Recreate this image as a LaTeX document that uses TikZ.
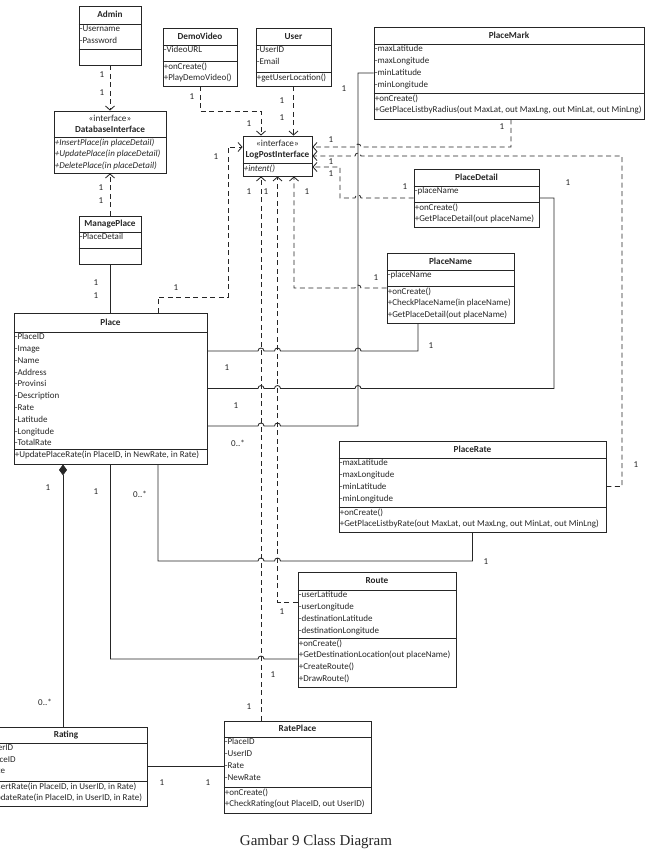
\documentclass[tikz,border=0pt]{standalone}
\usepackage{fontspec}
\setmainfont{Carlito}
\newfontfamily\captionfont{Liberation Serif}
\usetikzlibrary{calc, fit, arrows.meta}

% class box: name, top left, bottom right, y of first line, y of second line, title, attributes, methods
\newcommand{\umlclass}[8]{%
  \node[classbox, fit={(#2) (#3)}] (#1) {};
  \coordinate (#1-s1) at (#1.west |- 0,#4);
  \coordinate (#1-s2) at (#1.west |- 0,#5);
  \draw[assoc] (#1-s1) -- (#1-s1 -| #1.east)
        (#1-s2) -- (#1-s2 -| #1.east);
  \node[classtitle] (#1-title) at ($(#1.north)!0.5!(#1-s1 -| #1.north)$) {#6};
  \node[member] (#1-attr) at (#1-s1) {#7};
  \node[member] (#1-ops) at (#1-s2) {#8};
}

\begin{document}
\begin{tikzpicture}[x=1pt, y=-1pt, every node/.style={text=black!85},
    classbox/.style={draw=black!85, line width=0.85pt, inner sep=0pt},
    classtitle/.style={font=\fontsize{9.2}{10.7}\selectfont\bfseries, align=center, inner sep=0pt},
    member/.style={anchor=north west, align=left, inner xsep=1pt, inner ysep=1.3pt, font=\fontsize{9}{11.8}\selectfont},
    assoc/.style={draw=black!85, line width=0.85pt},
    dep/.style={assoc, dash pattern=on 5pt off 3.5pt, -{Straight Barb[length=4pt,width=9pt]}},
    mult/.style={font=\fontsize{9}{10}\selectfont, inner sep=0pt}]
    \useasboundingbox (0,0) rectangle (645,852);
    \clip (0,0) rectangle (645,852);

    % classes
    \umlclass{admin}{79,6}{141,65}{24}{49}{Admin}{-Username\\-Password}{}
    \umlclass{demovideo}{163,28}{237,86}{45}{61}{DemoVideo}{-VideoURL}{+onCreate()\\+PlayDemoVideo()}
    \umlclass{user}{256,28}{331,86}{45}{72}{User}{-UserID\\-Email}{+getUserLocation()}
    \umlclass{placemark}{374,27}{644,119}{44}{93}{PlaceMark}
        {-maxLatitude\\-maxLongitude\\-minLatitude\\-minLongitude}
        {+onCreate()\\+GetPlaceListbyRadius(out MaxLat, out MaxLng, out MinLat, out MinLng)}
    \umlclass{dbinterface}{54,111}{166,173}{137}{137}{{\mdseries «interface»}\\DatabaseInterface}{}
        {\itshape +InsertPlace(in placeDetail)\\\itshape +UpdatePlace(in placeDetail)\\\itshape +DeletePlace(in placeDetail)}
    \umlclass{logpost}{243,136}{312,176}{163}{163}{{\mdseries «interface»}\\LogPostInterface}{}{\itshape +intent()}
    \umlclass{manageplace}{79,216}{141,264}{232}{248}{ManagePlace}{-PlaceDetail}{}
    \umlclass{place}{14,313}{207,464}{332}{449}{Place}
        {-PlaceID\\-Image\\-Name\\-Address\\-Provinsi\\-Description\\-Rate\\-Latitude\\-Longitude\\-TotalRate}
        {+UpdatePlaceRate(in PlaceID, in NewRate, in Rate)}
    \umlclass{placedetail}{414,169}{539,227}{186}{202}{PlaceDetail}{-placeName}
        {+onCreate()\\+GetPlaceDetail(out placeName)}
    \umlclass{placename}{387,253}{514,323}{270}{286}{PlaceName}{-placeName}
        {+onCreate()\\+CheckPlaceName(in placeName)\\+GetPlaceDetail(out placeName)}
    \umlclass{placerate}{339,441}{606,532}{458}{507}{PlaceRate}
        {-maxLatitude\\-maxLongitude\\-minLatitude\\-minLongitude}
        {+onCreate()\\+GetPlaceListbyRate(out MaxLat, out MaxLng, out MinLat, out MinLng)}
    \umlclass{route}{298,572}{456,687}{590}{638}{Route}
        {-userLatitude\\-userLongitude\\-destinationLatitude\\-destinationLongitude}
        {+onCreate()\\+GetDestinationLocation(out placeName)\\+CreateRoute()\\+DrawRoute()}
    \umlclass{rateplace}{224,721}{371,813}{737}{787}{RatePlace}{-PlaceID\\-UserID\\-Rate\\-NewRate}
        {+onCreate()\\+CheckRating(out PlaceID, out UserID)}
    \umlclass{rating}{-15,727}{147,806}{743}{781}{Rating}{-UserID\\-PlaceID\\-Rate}
        {+InsertRate(in PlaceID, in UserID, in Rate)\\+UpdateRate(in PlaceID, in UserID, in Rate)}

    % dependencies
    \coordinate (lp-left) at ([xshift=-16.5pt]logpost.south);
    \draw[dep] (admin.south) -- (dbinterface.north);
    \draw[dep] (manageplace.north) -- (dbinterface.south);
    \draw[dep] (demovideo.south) -- ++(0,25) -| ([xshift=-16.5pt]logpost.north);
    \draw[dep] (user.south) -- (user.south |- logpost.north);
    \draw[dep] ([xshift=47.5pt]place.north) |- (228,297) |- ([yshift=9pt]logpost.west);
    \draw[dep] ([xshift=2pt]placemark.south) |- (361,147) arc (0:180:3pt) -- ([yshift=9pt]logpost.east);
    \draw[dep] (placerate.east) -| (622,156) -- (361,156) arc (0:180:3pt) -- (logpost.east);
    \draw[dep] (placedetail.west) -- (361,198) arc (0:180:3pt) -- (340,198) |- ([yshift=-11pt]logpost.east);
    \draw[dep] (placename.west) -- (361,288) arc (0:180:3pt) -| ([xshift=16.5pt]logpost.south);
    \draw[dep] ([yshift=27.5pt]route.west) -| (logpost.south);
    \draw[dep] (rateplace.north -| lp-left) -- (lp-left);

    % associations
    \draw[assoc] (manageplace.south) -- (manageplace.south |- place.north);
    \draw[assoc] ([yshift=37.5pt]place.east) -- (258,351) arc (180:0:3pt) -- (274.5,351) arc (180:0:3pt)
        -- (355,351) arc (180:0:3pt) -| ([xshift=-32.5pt]placename.south);
    \draw[assoc] (place.east) -- (258,388.5) arc (180:0:3pt) -- (274.5,388.5) arc (180:0:3pt)
        -- (355,388.5) arc (180:0:3pt) -- (554,388.5) |- (placedetail.east);
    \draw[assoc] ([yshift=-37.5pt]place.east) -- (258,426) arc (180:0:3pt) -- (274.5,426) arc (180:0:3pt)
        -- (358,426) |- (placemark.west);
    \draw[assoc] ([xshift=47.5pt]place.south) |- (258,561) arc (180:0:3pt) -- (274.5,561) arc (180:0:3pt)
        -| (placerate.south);
    \draw[assoc] (place.south) |- (258,659) arc (180:0:3pt) -- ([yshift=-29.5pt]route.west);
    \coordinate (comp) at ([xshift=-47.5pt]place.south);
    \draw[assoc, {Diamond[length=11pt,width=8pt]}-] (comp) -- (comp |- rating.north);
    \draw[assoc] (rating.east) -- (rating.east -| rateplace.west);

    % multiplicities
    \foreach \mx/\my/\mt [count=\i] in {102/75/1, 102/93/1, 101/188/1, 101/201/1, 96/283/1, 96/296/1,
        192/97/1, 249/124/1, 282/101/1, 282/118/1, 176/288/1, 216/157/1, 344/89/1, 502/127/1,
        331/140/1, 331/162/1, 331/174/1, 405/187/1, 568/183/1, 376/278/1, 249/192/1, 266/192/1,
        307/192/1, 431/346/1, 227/368/1, 236/406/1, 238/443/0..*, 636/465/1, 48/488/1, 96/492/1,
        140/494/0..*, 486/562/1, 282/612/1, 273/675/1, 249/707/1, 45/702/0..*, 162/783/1, 208/783/1}
        \node[mult] (mult\i) at (\mx,\my) {\mt};

    \node[font=\captionfont\fontsize{15}{18}\selectfont, inner sep=0pt] (caption) at (316,842) {Gambar 9 Class Diagram};
\end{tikzpicture}
\end{document}
